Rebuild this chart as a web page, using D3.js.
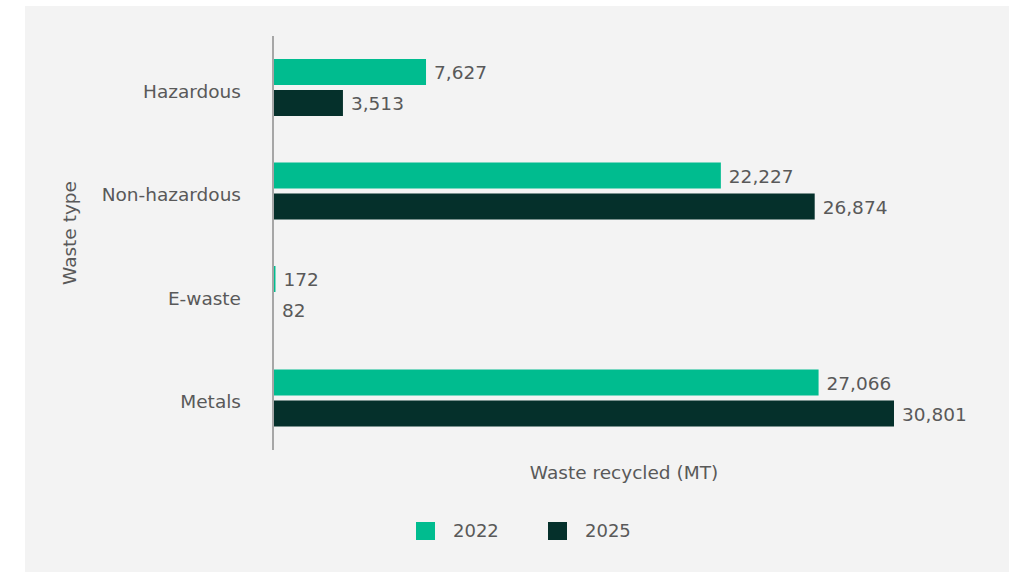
<!DOCTYPE html>
<html>
<head>
<meta charset="utf-8">
<script src="https://cdn.jsdelivr.net/npm/d3@7"></script>
<style>
  html, body { margin: 0; padding: 0; background: #ffffff; }
  svg { display: block; }
  text { font-family: "DejaVu Sans", "Noto Sans", sans-serif; fill: #595959; }
</style>
</head>
<body>
<svg id="chart" width="1009" height="573"></svg>
<script>
// Waste recycled by type, metric tonnes
const categories = ["Hazardous", "Non-hazardous", "E-waste", "Metals"];
const seriesNames = ["2022", "2025"];
const values2022 = [7627, 22227, 172, 27066];
const values2025 = [3513, 26874, 82, 30801];
const colors = ["#00bc8f", "#05302b"];

const svg = d3.select("#chart");

// panel background
svg.append("rect")
  .attr("x", 25).attr("y", 6)
  .attr("width", 984).attr("height", 566)
  .attr("fill", "#f3f3f3");

const x = d3.scaleLinear().domain([0, 35000]).range([272, 272 + 0.020194 * 35000]);
const y = d3.scaleBand().domain(categories).range([36, 450]).paddingInner(0).paddingOuter(0);
const sub = d3.scaleBand().domain(seriesNames).range([23, 80]).paddingInner(5 / 31);

const rows = categories.map((c, i) => ({ cat: c, vals: [values2022[i], values2025[i]] }));

const g = svg.append("g");

rows.forEach(r => {
  r.vals.forEach((v, k) => {
    const yy = y(r.cat) + sub(seriesNames[k]);
    g.append("rect")
      .attr("x", x(0))
      .attr("y", yy)
      .attr("width", x(v) - x(0))
      .attr("height", sub.bandwidth())
      .attr("fill", colors[k]);
    g.append("text")
      .attr("x", Math.max(x(v), 274) + 8)
      .attr("y", yy + sub.bandwidth() / 2 + 1)
      .attr("dy", "0.35em")
      .attr("font-size", 18.5)
      .text(d3.format(",")(v));
  });
});

// category labels
categories.forEach(c => {
  svg.append("text")
    .attr("x", 241)
    .attr("y", y(c) + y.bandwidth() / 2 + 3.5)
    .attr("dy", "0.35em")
    .attr("text-anchor", "end")
    .attr("font-size", 18.5)
    .text(c);
});

// vertical axis line
svg.append("line")
  .attr("x1", 273).attr("x2", 273)
  .attr("y1", 36).attr("y2", 450)
  .attr("stroke", "#a6a6a6").attr("stroke-width", 2);

// axis titles
svg.append("text")
  .attr("transform", "translate(70,233) rotate(-90)")
  .attr("text-anchor", "middle")
  .attr("dy", "0.35em")
  .attr("font-size", 18.5)
  .text("Waste type");

svg.append("text")
  .attr("x", 624).attr("y", 473)
  .attr("dy", "0.35em")
  .attr("text-anchor", "middle")
  .attr("font-size", 18.5)
  .text("Waste recycled (MT)");

// legend
const legendX = [416, 548];
seriesNames.forEach((s, k) => {
  svg.append("rect")
    .attr("x", legendX[k]).attr("y", 522)
    .attr("width", 19).attr("height", 18)
    .attr("fill", colors[k]);
  svg.append("text")
    .attr("x", legendX[k] + 37).attr("y", 531)
    .attr("dy", "0.35em")
    .attr("font-size", 18)
    .text(s);
});
</script>
</body>
</html>
